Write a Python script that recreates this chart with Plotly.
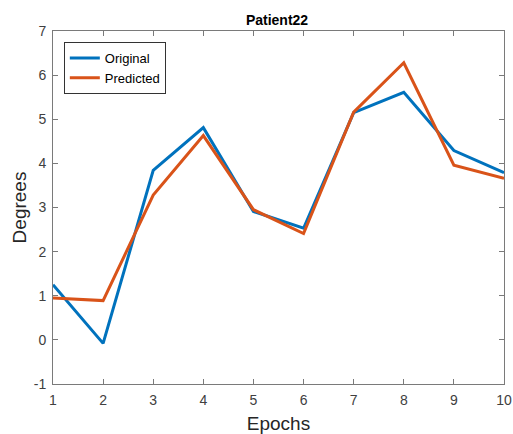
import plotly.graph_objects as go

epochs = [1, 2, 3, 4, 5, 6, 7, 8, 9, 10]
original = [1.25, -0.08, 3.84, 4.81, 2.91, 2.53, 5.15, 5.61, 4.29, 3.79]
predicted = [0.95, 0.89, 3.28, 4.63, 2.95, 2.41, 5.16, 6.28, 3.96, 3.66]
x_ticks = list(range(1, 11))
y_ticks = list(range(-1, 8))
y_tick_text = [str(v) for v in y_ticks]

fig = go.Figure()
fig.add_trace(go.Scatter(x=epochs, y=original, mode="lines", name="Original",
                         line=dict(color="#0072BD", width=3)))
fig.add_trace(go.Scatter(x=epochs, y=predicted, mode="lines", name="Predicted",
                         line=dict(color="#D95319", width=3)))

axis_common = dict(showgrid=False, zeroline=False, showline=True, linecolor="#7a7a7a",
                   linewidth=1, mirror="ticks", ticks="inside", ticklen=5, automargin=False,
                   ticklabelstandoff=3,
                   tickcolor="#7a7a7a", tickfont=dict(family="Liberation Sans, Arial", size=14, color="#404040"))

fig.update_layout(
    width=513, height=434,
    margin=dict(l=53, r=9, t=31, b=50),
    paper_bgcolor="white", plot_bgcolor="white",
    title=dict(text="<b>Patient22</b>", x=0.54, xanchor="center", y=0.953, yanchor="middle",
               font=dict(family="Liberation Sans, Arial", size=14, color="black")),
    xaxis=dict(range=[1, 10], tickvals=x_ticks, **axis_common,
               title=dict(text="Epochs", standoff=12, font=dict(family="Liberation Sans, Arial", size=19, color="#262626"))),
    yaxis=dict(range=[-1, 7], tickvals=y_ticks, ticktext=y_tick_text, **axis_common,
               title=dict(text="Degrees", standoff=2, font=dict(family="Liberation Sans, Arial", size=19, color="#262626"))),
    legend=dict(x=0.024, y=0.969, xanchor="left", yanchor="top", bordercolor="#333", borderwidth=1,
                bgcolor="white", font=dict(family="Liberation Sans, Arial", size=13, color="black"),
                tracegroupgap=0, itemwidth=30),
    showlegend=True,
)

fig.write_html("out.html")
